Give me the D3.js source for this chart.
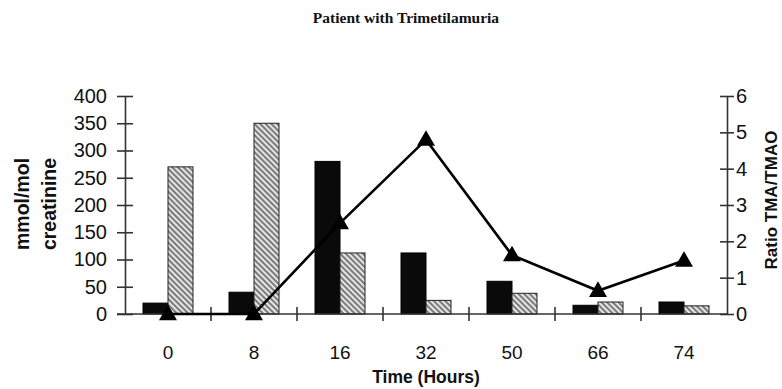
<!DOCTYPE html>
<html>
<head>
<meta charset="utf-8">
<script src="https://cdn.jsdelivr.net/npm/d3@7"></script>
<style>
  body { margin: 0; background: #fff; }
  .plot { width: 782px; height: 389px; }
  text { fill: #111; }
</style>
</head>
<body>
<div class="plot"></div>
<script>
var m = {t:96, r:55, b:75, l:125},
    W = 782, H = 389,
    w = W - m.l - m.r,
    h = H - m.t - m.b;

// data
var hours = ['0','8','16','32','50','66','74'];
var tma   = [20, 40, 280, 112, 60, 16, 22];      // black bars, mmol/mol creatinine
var tmao  = [270, 350, 112, 25, 38, 22, 15];     // hatched bars
var ratio = [0, 0, 2.5, 4.8, 1.62, 0.64, 1.47];  // TMA/TMAO line
var leftTicks  = [0,50,100,150,200,250,300,350,400];
var rightTicks = [0,1,2,3,4,5,6];

var svg = d3.select('.plot').append('svg')
    .attr('width', W)
    .attr('height', H);

var defs = svg.append('defs');
var pat = defs.append('pattern')
    .attr('id','hatch')
    .attr('patternUnits','userSpaceOnUse')
    .attr('width',4).attr('height',4)
    .attr('patternTransform','rotate(45)');
pat.append('rect').attr('width',4).attr('height',4).attr('fill','#e4e4e4');
pat.append('line').attr('x1',0).attr('y1',1).attr('x2',4).attr('y2',1)
    .attr('stroke','#444').attr('stroke-width',1.3);

svg.append('text')
    .attr('x', 406).attr('y', 23)
    .attr('text-anchor','middle')
    .style('font-family','"Liberation Serif", "Times New Roman", serif')
    .style('font-weight','bold')
    .style('font-size','15.5px')
    .text('Patient with Trimetilamuria');

var plot = svg.append('g')
    .attr('transform','translate('+m.l+','+m.t+')');

var x = d3.scaleBand().domain(hours).range([0,w]).padding(0);
var x1 = d3.scaleBand().domain(['tma','tmao']).range([0, x.bandwidth()])
    .paddingInner(0).paddingOuter(0.72);
var y = d3.scaleLinear().domain([0,400]).range([h,0]);
var y2 = d3.scaleLinear().domain([0,6]).range([h,0]);

var rows = hours.map(function(d,i){
    return {hour:d, tma:tma[i], tmao:tmao[i], ratio:ratio[i]};
});

var groups = plot.selectAll('g.grp')
    .data(rows)
    .enter().append('g')
    .attr('class','grp')
    .attr('transform',function(d){return 'translate('+x(d.hour)+',0)'});

groups.append('rect')
    .attr('x', x1('tma'))
    .attr('width', x1.bandwidth())
    .attr('y', function(d){return y(d.tma)})
    .attr('height', function(d){return h - y(d.tma)})
    .attr('fill','#0a0a0a')
    .attr('stroke','#000').attr('stroke-width',1);

groups.append('rect')
    .attr('x', x1('tmao'))
    .attr('width', x1.bandwidth())
    .attr('y', function(d){return y(d.tmao)})
    .attr('height', function(d){return h - y(d.tmao)})
    .attr('fill','url(#hatch)')
    .attr('stroke','#222').attr('stroke-width',1);

// axes
var axisStyle = function(g){
    g.select('.domain').attr('stroke','#333').attr('stroke-width',1.6);
    g.selectAll('.tick line').attr('stroke','#333').attr('stroke-width',1.6);
    g.selectAll('.tick text')
        .style('font-family','"Liberation Sans", Arial, sans-serif')
        .style('font-size','20px')
        .attr('fill','#111');
};

var yAxis = plot.append('g')
    .call(d3.axisLeft(y).tickValues(leftTicks).tickSize(8).tickPadding(10).tickSizeOuter(0))
    .call(axisStyle);
yAxis.selectAll('.tick line').attr('x1',8).attr('x2',-8);

var y2Axis = plot.append('g')
    .attr('transform','translate('+w+',0)')
    .call(d3.axisRight(y2).tickValues(rightTicks).tickFormat(d3.format('d'))
        .tickSize(7).tickPadding(2).tickSizeOuter(0))
    .call(axisStyle);
y2Axis.selectAll('.tick line').attr('x1',-7).attr('x2',7);

// x axis line, category separators and labels
plot.append('line')
    .attr('x1',-8).attr('x2',w)
    .attr('y1',h).attr('y2',h)
    .attr('stroke','#333').attr('stroke-width',1.6);

plot.selectAll('line.sep')
    .data(hours.slice(1))
    .enter().append('line')
    .attr('class','sep')
    .attr('x1',function(d){return x(d)}).attr('x2',function(d){return x(d)})
    .attr('y1',h-7).attr('y2',h+7)
    .attr('stroke','#333').attr('stroke-width',1.6);

plot.selectAll('text.xl')
    .data(hours)
    .enter().append('text')
    .attr('class','xl')
    .attr('x',function(d){return x(d)+x.bandwidth()/2})
    .attr('y',h+45)
    .attr('text-anchor','middle')
    .style('font-family','"Liberation Sans", Arial, sans-serif')
    .style('font-size','19px')
    .text(function(d){return d});

// ratio line
var line = d3.line()
    .x(function(d){return x(d.hour)+x.bandwidth()/2})
    .y(function(d){return y2(d.ratio)});

plot.append('path')
    .datum(rows)
    .attr('d', line)
    .attr('fill','none')
    .attr('stroke','#000')
    .attr('stroke-width',2.6);

plot.selectAll('path.tri')
    .data(rows)
    .enter().append('path')
    .attr('class','tri')
    .attr('d', d3.symbol().type(d3.symbolTriangle).size(140))
    .attr('transform',function(d){
        return 'translate('+(x(d.hour)+x.bandwidth()/2)+','+(y2(d.ratio)+1)+')';
    })
    .attr('fill','#000');

// axis titles
var lab = svg.append('g')
    .attr('transform','translate(0,'+(m.t+h/2 - 1)+') rotate(-90)')
    .style('font-family','"Liberation Sans", Arial, sans-serif')
    .style('font-weight','bold')
    .style('font-size','19.5px')
    .attr('text-anchor','middle');
lab.append('text').attr('x',0).attr('y',29).text('mmol/mol');
lab.append('text').attr('x',0).attr('y',56).text('creatinine');

svg.append('text')
    .attr('transform','translate('+(W-5)+','+(m.t+h/2 - 5)+') rotate(-90)')
    .attr('text-anchor','middle')
    .style('font-family','"Liberation Sans", Arial, sans-serif')
    .style('font-weight','bold')
    .style('font-size','17px')
    .text('Ratio TMA/TMAO');

svg.append('text')
    .attr('x', m.l + w/2).attr('y', 383)
    .attr('text-anchor','middle')
    .style('font-family','"Liberation Sans", Arial, sans-serif')
    .style('font-weight','bold')
    .style('font-size','17.5px')
    .text('Time (Hours)');
</script>
</body>
</html>
